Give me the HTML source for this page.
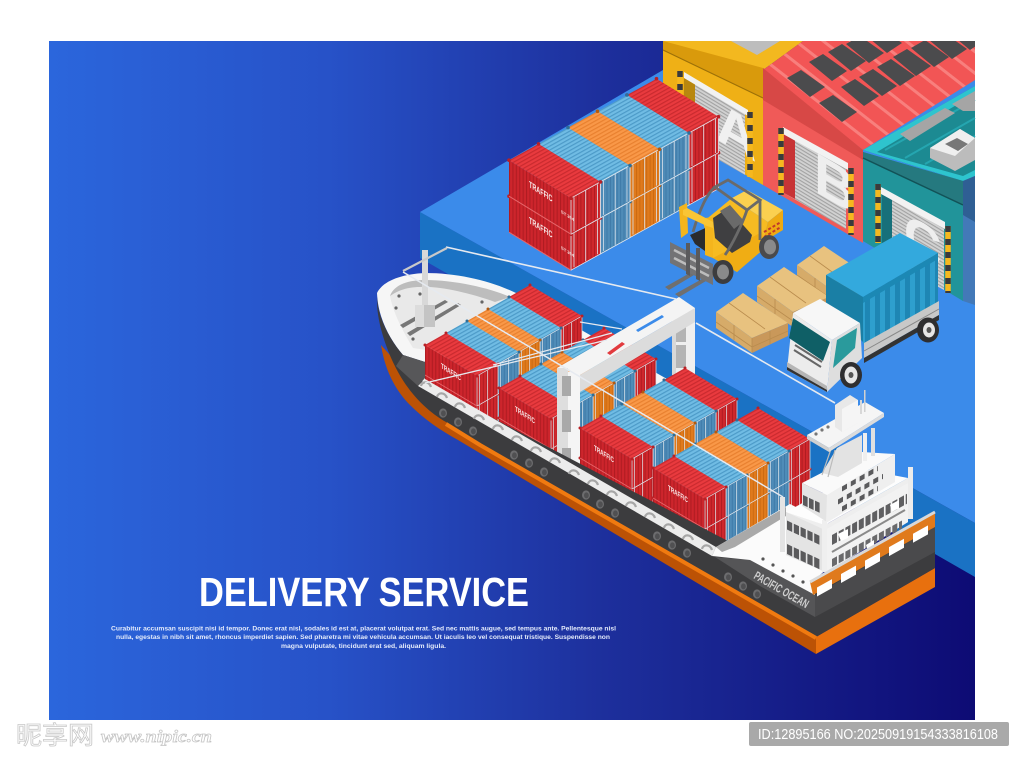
<!DOCTYPE html>
<html lang="en"><head><meta charset="utf-8"><title>Delivery Service</title>
<style>html,body{margin:0;padding:0;background:#fff}svg{display:block}text{font-family:"Liberation Sans","Noto Sans CJK SC",sans-serif}</style></head>
<body>
<svg xmlns="http://www.w3.org/2000/svg" width="1024" height="761" viewBox="0 0 1024 761">
<defs>
<linearGradient id="bg" x1="0" x2="1" y1="0" y2="0"><stop offset="0" stop-color="#2b66dc"/><stop offset=".3" stop-color="#2752c8"/><stop offset=".6" stop-color="#1d2f9c"/><stop offset="1" stop-color="#0d0b74"/></linearGradient>
<pattern id="sr" width="3.4" height="8" patternUnits="userSpaceOnUse"><rect width="3.4" height="8" fill="#cd252c"/><rect width="1.1" height="8" fill="#b01c22"/></pattern>
<pattern id="er" width="3.4" height="8" patternUnits="userSpaceOnUse"><rect width="3.4" height="8" fill="#cf272c"/><rect width="1" height="8" fill="#b01c22"/></pattern>
<pattern id="eb" width="3.4" height="8" patternUnits="userSpaceOnUse"><rect width="3.4" height="8" fill="#4f8cb8"/><rect width="1" height="8" fill="#3f7aa8"/></pattern>
<pattern id="eo" width="3.4" height="8" patternUnits="userSpaceOnUse"><rect width="3.4" height="8" fill="#e07a1c"/><rect width="1" height="8" fill="#cb6a12"/></pattern>
<pattern id="tr" width="8" height="3.4" patternUnits="userSpaceOnUse" patternTransform="rotate(-29)"><rect width="8" height="3.4" fill="#e93a3e"/><rect width="8" height="1.2" fill="#c92a2f"/></pattern>
<pattern id="tb" width="8" height="3.4" patternUnits="userSpaceOnUse" patternTransform="rotate(-29)"><rect width="8" height="3.4" fill="#70bce4"/><rect width="8" height="1.2" fill="#4c9ac8"/></pattern>
<pattern id="to" width="8" height="3.4" patternUnits="userSpaceOnUse" patternTransform="rotate(-29)"><rect width="8" height="3.4" fill="#f99848"/><rect width="8" height="1.2" fill="#e8802f"/></pattern>
<pattern id="sh" width="10" height="3" patternUnits="userSpaceOnUse" patternTransform="rotate(31)"><rect width="10" height="3" fill="#d2d2d2"/><rect width="10" height="1.1" fill="#a2a2a2"/></pattern>
<pattern id="slat" width="17" height="17" patternUnits="userSpaceOnUse" patternTransform="rotate(38)"><rect y="0" width="17" height="3" fill="#f87f7d"/></pattern>
<pattern id="tr2" width="10" height="9" patternUnits="userSpaceOnUse"><rect width="5" height="9" fill="#2e9fce"/><rect x="5" width="5" height="9" fill="#1e86b4"/></pattern>

<g id="yframe" fill="none" stroke="#dfe6ee" stroke-width=".8"><path d="M62 38L91.5 21.7V57.7L62 74Z"/><path d="M65 37V71M76.7 30V65M88.5 24V58"/></g>
<g id="yR"><path d="M0 0L62 38V74L0 36Z" fill="url(#sr)"/><path d="M0 0L29.5-16.3L91.5 21.7L62 38Z" fill="url(#tr)"/><path d="M62 38L91.5 21.7V57.7L62 74Z" fill="url(#er)"/><use href="#yframe"/><path d="M0 36L62 74" stroke="#e6656a" stroke-width="1"/><circle cx="0" cy="0" r="1.8" fill="#b92126"/><circle cx="29.5" cy="-16.3" r="1.8" fill="#b92126"/><circle cx="62" cy="38" r="1.8" fill="#b92126"/><circle cx="91.5" cy="21.7" r="1.8" fill="#b92126"/></g>
<g id="yB"><path d="M0 0L62 38V74L0 36Z" fill="#4d8ab6"/><path d="M0 0L29.5-16.3L91.5 21.7L62 38Z" fill="url(#tb)"/><path d="M62 38L91.5 21.7V57.7L62 74Z" fill="url(#eb)"/><use href="#yframe"/><circle cx="29.5" cy="-16.3" r="1.8" fill="#2d6f9a"/><circle cx="91.5" cy="21.7" r="1.8" fill="#2d6f9a"/></g>
<g id="yO"><path d="M0 0L62 38V74L0 36Z" fill="#dd7418"/><path d="M0 0L29.5-16.3L91.5 21.7L62 38Z" fill="url(#to)"/><path d="M62 38L91.5 21.7V57.7L62 74Z" fill="url(#eo)"/><use href="#yframe"/><circle cx="29.5" cy="-16.3" r="1.8" fill="#b35a10"/><circle cx="91.5" cy="21.7" r="1.8" fill="#b35a10"/></g>

<g id="sframe" fill="none" stroke="#dfe5ec" stroke-width=".7"><path d="M52 31L73 19V49L52 61Z"/><path d="M54.5 30V59M62.5 25.5V55"/></g>
<g id="sR"><path d="M0 0L52 31V61L0 30Z" fill="url(#sr)"/><path d="M0 0L21-12L73 19L52 31Z" fill="url(#tr)"/><path d="M52 31L73 19V49L52 61Z" fill="url(#er)"/><use href="#sframe"/><path d="M0 30L52 61" stroke="#e6656a" stroke-width=".9"/><circle cx="0" cy="0" r="1.5" fill="#b92126"/><circle cx="21" cy="-12" r="1.5" fill="#b92126"/><circle cx="52" cy="31" r="1.5" fill="#b92126"/><circle cx="73" cy="19" r="1.5" fill="#b92126"/></g>
<g id="sB"><path d="M0 0L52 31V61L0 30Z" fill="#4d8ab6"/><path d="M0 0L21-12L73 19L52 31Z" fill="url(#tb)"/><path d="M52 31L73 19V49L52 61Z" fill="url(#eb)"/><use href="#sframe"/><circle cx="21" cy="-12" r="1.5" fill="#2d6f9a"/><circle cx="73" cy="19" r="1.5" fill="#2d6f9a"/></g>
<g id="sO"><path d="M0 0L52 31V61L0 30Z" fill="#dd7418"/><path d="M0 0L21-12L73 19L52 31Z" fill="url(#to)"/><path d="M52 31L73 19V49L52 61Z" fill="url(#eo)"/><use href="#sframe"/><circle cx="21" cy="-12" r="1.5" fill="#b35a10"/><circle cx="73" cy="19" r="1.5" fill="#b35a10"/></g>

<g id="ship4"><use href="#sR" x="84" y="48"/><use href="#sB" x="63" y="60"/><use href="#sO" x="42" y="72"/><use href="#sB" x="21" y="84"/><use href="#sR" x="0" y="96"/></g>
<g id="stud"><ellipse cx="0" cy="0" rx="4" ry="4.6" fill="#6c6c6e"/><ellipse cx=".4" cy=".4" rx="2.4" ry="3" fill="#505052"/></g>
<path id="boll" d="M-5 2C-4-3 3-3 5 3" fill="none" stroke="#a6a6a6" stroke-width="2.2"/>
<g id="pal"><path d="M0 0L27-19L72 11L36 26Z" fill="#e8c27f"/><path d="M0 0L36 26V41L0 16Z" fill="#d6ab69"/><path d="M36 26L72 11V24L36 41Z" fill="#c9985a"/><path d="M13-9L49 17M36 26V40M18 13V28M54 19V32M0 10L36 35L72 19" stroke="#b98c4e" stroke-width=".8" fill="none"/></g>
<g id="win"><path d="M0 0L14-8L38 9L23 19Z" fill="#4b4b4d"/></g>
<clipPath id="rc"><path d="M763 70L803 41H975V80L863 150Z"/></clipPath>
</defs>

<rect width="1024" height="761" fill="#fff"/>
<rect x="49" y="41" width="926" height="679" fill="url(#bg)"/>

<!-- quay -->
<path d="M420 212L975 523V577L420 258Z" fill="#1a72c4"/>
<path d="M420 212L663 70H975V523Z" fill="#3b8bea"/>

<!-- yellow building -->
<path d="M663 41H803L763 70V80Z" fill="#f3b81f"/>
<path d="M731 41H780L757 55Z" fill="#bdbdbd"/>
<path d="M663 41L763 68V185L663 127Z" fill="#efb016"/>
<path d="M663 41L763 68V98L663 50Z" fill="#d99a0c"/>
<path d="M663 50L763 98" stroke="#9c7008" stroke-width="1.2"/>
<path d="M684 74L745 112V175L684 140Z" fill="url(#sh)"/>
<path d="M684 74L695 81V146L684 140Z" fill="#b8870f"/>
<path d="M684 72L748 110V116L684 78Z" fill="#f2f2f2"/>
<text transform="matrix(1,.58,0,1,716,139)" font-size="56" font-weight="700" fill="#f0f0f0">A</text>
<!-- red building -->
<path d="M763 70L803 41H975V80L863 150Z" fill="#f25555"/>
<g clip-path="url(#rc)">
<rect x="763" y="41" width="212" height="110" fill="url(#slat)"/>
<use href="#win" x="787" y="78"/><use href="#win" x="809" y="62"/><use href="#win" x="828" y="52"/><use href="#win" x="846" y="44"/><use href="#win" x="864" y="34"/>
<use href="#win" x="819" y="103"/><use href="#win" x="841" y="87"/><use href="#win" x="859" y="77"/><use href="#win" x="877" y="67"/><use href="#win" x="893" y="57"/><use href="#win" x="911" y="48"/><use href="#win" x="929" y="40"/><use href="#win" x="947" y="31"/>
</g>
<path d="M763 68L863 150V243L763 185Z" fill="#f05a58"/>
<path d="M763 68L863 150V160L763 100Z" fill="#d74846"/>
<path d="M784 130L846 164V229L784 193Z" fill="url(#sh)"/>
<path d="M784 130L795 136V199L784 193Z" fill="#c73436"/>
<path d="M783 127L848 163V170L783 134Z" fill="#f2f2f2"/>
<text transform="matrix(1,.58,0,1,814,191)" font-size="58" font-weight="700" fill="#eeeeee">B</text>
<!-- teal building -->
<path d="M863 150L975 86V176L963 181Z" fill="#1c8a92"/>
<path d="M863 150L975 86V94L877 152L963 176L975 170V176L963 181Z" fill="#2ec4ce"/>
<path d="M885 150L975 100M905 158L975 118M925 164L975 136" stroke="#25a6b0" stroke-width="2"/>
<path d="M900 134L945 108L955 113L910 141Z" fill="#a5a5a5"/>
<path d="M952 104L975 91V111L963 111Z" fill="#a5a5a5"/>
<path d="M930 148L960 129L975 138V160L955 171L930 158Z" fill="#bcbcbc"/>
<path d="M930 148L960 129L975 138L955 156Z" fill="#efefef"/>
<path d="M945 144L957 138L968 144L958 151Z" fill="#777"/>
<path d="M863 152L963 181V301L863 241Z" fill="#21949a"/>
<path d="M863 152L963 181V205L863 158Z" fill="#25797f"/>
<path d="M863 158L963 205" stroke="#125257" stroke-width="1.5"/>
<path d="M963 181L975 176V305L963 301Z" fill="#4379b8"/>
<path d="M963 181L975 176V222L963 215Z" fill="#2f5f94"/>
<path d="M882 190L944 225V290L882 256Z" fill="url(#sh)"/>
<path d="M882 190L892 196V262L882 256Z" fill="#17707a"/>
<path d="M881 187L945 222V229L881 194Z" fill="#f2f2f2"/>
<text transform="matrix(1,.58,0,1,904,248)" font-size="52" font-weight="700" fill="#eeeeee">C</text>
<!-- hazard posts -->
<g stroke-width="5.5" fill="none">
<path d="M680 71V95M750 112V177M781 128V195M851 168V235M878 184V243M948 226V293" stroke="#f5b81f"/>
<path d="M680 71V95M750 112V177M781 128V195M851 168V235M878 184V243M948 226V293" stroke="#3a3a3c" stroke-dasharray="6 7"/>
</g>

<!-- yard containers -->
<g>
<use href="#yR" x="627" y="131"/><use href="#yB" x="597.5" y="147.3"/><use href="#yO" x="568" y="163.6"/><use href="#yB" x="538.5" y="179.9"/><use href="#yR" x="509" y="196.2"/>
<use href="#yR" x="627" y="95"/><use href="#yB" x="597.5" y="111.3"/><use href="#yO" x="568" y="127.6"/><use href="#yB" x="538.5" y="143.9"/><use href="#yR" x="509" y="160.2"/>
<text transform="matrix(.9,.58,0,1,529,187)" font-size="9" font-weight="700" fill="#f8e6e6" textLength="26" lengthAdjust="spacingAndGlyphs">TRAFFIC</text>
<text transform="matrix(.9,.58,0,1,529,223)" font-size="9" font-weight="700" fill="#f8e6e6" textLength="26" lengthAdjust="spacingAndGlyphs">TRAFFIC</text>
<text transform="matrix(.9,.58,0,1,561,213)" font-size="4.5" font-weight="700" fill="#f4dede">ST 394</text>
<text transform="matrix(.9,.58,0,1,561,249)" font-size="4.5" font-weight="700" fill="#f4dede">ST 394</text>
</g>

<!-- forklift -->
<g>
<path d="M665 287L690 273L694 275L669 290ZM675 294L702 279L706 281L679 297Z" fill="#6f6f6f"/>
<path d="M703 222L732 198L768 222L762 247L737 272L713 258Z" fill="#f6bb22"/>
<path d="M732 198L747 190L783 210L768 222Z" fill="#fbd050"/>
<path d="M768 222L783 210V230L763 242Z" fill="#eeaa12"/>
<path d="M764 232L781 222M764 237L781 227" stroke="#c0392b" stroke-width="2" stroke-dasharray="3 2"/>
<path d="M713 258L762 232L765 248L737 272Z" fill="#f0ad14"/>
<path d="M690 235L712 225L712 256L695 244Z" fill="#2b2b2d"/>
<path d="M713 218L728 208L752 235L750 242L732 253L715 238Z" fill="#3f3f41"/>
<path d="M720 211L730 205L744 221L734 229Z" fill="#6a6a6a"/>
<g fill="none" stroke="#6a6a6a" stroke-width="2.8">
<path d="M715 187L728 180L760 200L747 210Z"/>
<path d="M715 187C705 195 698 215 693 232"/>
<path d="M747 210C742 225 732 245 725 255"/>
<path d="M760 200V240"/>
</g>
<path d="M679 207L687 203L688 233L681 238Z" fill="#f4b51d"/>
<path d="M705 218L713 217V258L705 255Z" fill="#f4b51d"/>
<path d="M683 210L687 208L713 222V228L707 226L683 215Z" fill="#f9c535"/>
<path d="M670 242L713 264V285L670 263Z" fill="#737375"/>
<path d="M674 250L709 268M674 258L709 276" stroke="#bdbdbd" stroke-width="2.4"/>
<path d="M686 243L690 243V276L686 274ZM696 248L700 248V281L696 279Z" fill="#5a5a5c"/>
<ellipse cx="723" cy="272" rx="10.5" ry="12" fill="#3c3c3e"/><ellipse cx="723" cy="272" rx="6" ry="7.5" fill="#8a8a8a"/>
<ellipse cx="769" cy="247" rx="10" ry="12" fill="#4a4a4c"/><ellipse cx="770" cy="247" rx="6" ry="7.5" fill="#8a8a8a"/>
</g>

<!-- pallets -->
<use href="#pal" x="797" y="265"/><use href="#pal" x="757" y="286"/><use href="#pal" x="716" y="312"/>

<!-- truck -->
<g>
<path d="M826 275L900 233L938 253L863 297Z" fill="#33a9dd"/>
<path d="M826 275L863 297V302L826 282Z" fill="#2698c8"/>
<path d="M826 275L863 297V342L826 305Z" fill="#1a7fa5"/>
<path d="M863 297L938 253V302L863 344Z" fill="url(#tr2)"/>
<path d="M863 297L938 253V259L863 303Z" fill="#1c88b4"/>
<path d="M864 343L939 301V315L864 358Z" fill="#c8c8c8"/>
<path d="M864 351L939 309" stroke="#888" stroke-width="1"/>
<path d="M864 358L939 315V320L864 363Z" fill="#333"/>
<ellipse cx="928" cy="330" rx="11" ry="12.5" fill="#2e2e30"/><ellipse cx="929" cy="330" rx="6" ry="7.5" fill="#e6e6e6"/><ellipse cx="929" cy="330" rx="2.5" ry="3" fill="#555"/>
<path d="M793 313L820 299L860 323L832 340Z" fill="#f7f7f7"/>
<path d="M793 313L832 340L827 392L787 370Z" fill="#ececec"/>
<path d="M793 318L830 342L823 361L789 338Z" fill="#0f5f66"/>
<path d="M795 345L822 362M794 350L821 367" stroke="#666" stroke-width="2"/>
<path d="M787 362L827 386V392L787 370Z" fill="#b5b5b5"/>
<path d="M787 367L827 390V392L787 370Z" fill="#333"/>
<path d="M832 340L860 323L862 358L827 392Z" fill="#dedede"/>
<path d="M837 340L857 328L855 348L833 368Z" fill="#2a9a9c"/>
<ellipse cx="851" cy="375" rx="11" ry="13" fill="#2e2e30"/><ellipse cx="851" cy="375" rx="6.5" ry="8.5" fill="#e6e6e6"/><ellipse cx="851" cy="375" rx="2.5" ry="3" fill="#555"/>
</g>

<!-- ship deck (behind containers) -->
<path d="M377 293C382 282 400 274 425 273C460 273 495 282 520 295L800 455L815 595L420 380L425 362L403 355C390 340 378 318 377 293Z" fill="#f6f6f6"/>
<path d="M390 296C396 287 405 283 425 283C455 283 490 290 508 298L440 352L413 348C402 330 393 312 390 296Z" fill="#e9e9e9"/>
<path d="M390 296C394 284 410 280 425 280C455 280 490 288 510 297L495 302C470 293 440 286 420 287C405 287 396 292 390 296Z" fill="#bdbdbd"/>
<path d="M400 325L445 300L448 302L403 328ZM407 333L458 303L461 305L410 336Z" fill="#777"/>
<rect x="415" y="305" width="20" height="22" fill="#c4c4c4"/><rect x="415" y="305" width="9" height="22" fill="#dcdcdc"/>
<rect x="422" y="250" width="6" height="55" fill="#d8d8d8"/>
<g fill="#666"><circle cx="399" cy="296" r="1.6"/><circle cx="396" cy="308" r="1.6"/><circle cx="413" cy="339" r="1.6"/><circle cx="482" cy="302" r="1.6"/><circle cx="420" cy="294" r="1.6"/></g>

<!-- stacks G1 -->
<g transform="translate(425,279)"><use href="#ship4"/></g>
<g transform="translate(425,249)"><use href="#ship4"/></g>
<text transform="matrix(.9,.58,0,1,441,368)" font-size="7.5" font-weight="700" fill="#f8e6e6" textLength="22" lengthAdjust="spacingAndGlyphs">TRAFFIC</text>

<!-- stacks G2 -->
<g transform="translate(499,322)"><use href="#ship4"/></g>
<g transform="translate(499,292)"><use href="#ship4"/></g>
<text transform="matrix(.9,.58,0,1,515,411)" font-size="7.5" font-weight="700" fill="#f8e6e6" textLength="22" lengthAdjust="spacingAndGlyphs">TRAFFIC</text>

<!-- gantry -->
<g>
<path d="M672 308H695V375H672Z" fill="#efefef"/><rect x="672" y="308" width="4" height="67" fill="#d8d8d8"/>
<rect x="676" y="320" width="10" height="22" fill="#b4b4b4"/><rect x="676" y="345" width="10" height="23" fill="#b4b4b4"/>
<path d="M557 368L679 297L695 308L580 375Z" fill="#f4f4f4"/>
<path d="M580 375L695 308V322L580 392Z" fill="#dcdcdc"/>
<path d="M636 330L662 315L664 317L638 332Z" fill="#3b8bea"/>
<path d="M607 353L622 342L625 344L610 355Z" fill="#e23a3e"/>
<rect x="557" y="368" width="11" height="99" fill="#dedede"/><rect x="568" y="372" width="12" height="95" fill="#f5f5f5"/>
<rect x="562" y="376" width="9" height="20" fill="#a9a9a9"/><rect x="562" y="410" width="9" height="22" fill="#a9a9a9"/><rect x="562" y="448" width="9" height="15" fill="#a9a9a9"/>
</g>

<!-- stacks G3 -->
<g transform="translate(580,362)"><use href="#ship4"/></g>
<g transform="translate(580,332)"><use href="#ship4"/></g>
<text transform="matrix(.9,.58,0,1,594,450)" font-size="7.5" font-weight="700" fill="#f8e6e6" textLength="22" lengthAdjust="spacingAndGlyphs">TRAFFIC</text>
<text transform="matrix(.9,.58,0,1,594,481)" font-size="7.5" font-weight="700" fill="#f8e6e6" textLength="22" lengthAdjust="spacingAndGlyphs">TRAFFIC</text>

<!-- stacks G4 -->
<g transform="translate(653,402)"><use href="#ship4"/></g>
<g transform="translate(653,372)"><use href="#ship4"/></g>
<text transform="matrix(.9,.58,0,1,668,490)" font-size="7.5" font-weight="700" fill="#f8e6e6" textLength="22" lengthAdjust="spacingAndGlyphs">TRAFFIC</text>
<text transform="matrix(.9,.58,0,1,668,521)" font-size="7.5" font-weight="700" fill="#f8e6e6" textLength="22" lengthAdjust="spacingAndGlyphs">TRAFFIC</text>

<!-- hull -->
<path d="M381 345C385 370 395 390 410 405C425 420 440 430 458 440L816 654V620L430 400Z" fill="#bc5205"/>
<path d="M816 637L935 568V587L816 654Z" fill="#e8700e"/>
<path d="M377 297C376 320 386 350 398 372C410 394 428 412 446 422L480 444L816 637L935 568V515L812 585L420 380L425 378V362L403 355C390 340 378 318 377 297Z" fill="#3c3c3e"/>
<path d="M403 355L425 362V378L418 386L396 366Z" fill="#575759"/>
<path d="M715 557L750 560L815 595V617L760 586Z" fill="#555557"/>
<path d="M815 595L935 527V552L815 617Z" fill="#4a4a4c"/>
<path d="M446 424L480 445L816 638" fill="none" stroke="#f07a10" stroke-width="4"/>
<path d="M418 386L425 379L716 547L712 556Z" fill="#ececec"/>
<g>
<use href="#boll" x="426" y="384"/><use href="#boll" x="442" y="395"/><use href="#boll" x="460" y="405"/><use href="#boll" x="479" y="417"/><use href="#boll" x="498" y="427"/><use href="#boll" x="517" y="438"/><use href="#boll" x="536" y="449"/><use href="#boll" x="555" y="460"/><use href="#boll" x="574" y="472"/><use href="#boll" x="593" y="482"/><use href="#boll" x="612" y="493"/><use href="#boll" x="631" y="504"/><use href="#boll" x="650" y="515"/><use href="#boll" x="669" y="526"/><use href="#boll" x="688" y="537"/><use href="#boll" x="707" y="547"/>
</g>
<g>
<use href="#stud" x="443" y="413"/><use href="#stud" x="458" y="422"/><use href="#stud" x="473" y="431"/>
<use href="#stud" x="514" y="455"/><use href="#stud" x="529" y="463"/><use href="#stud" x="544" y="472"/>
<use href="#stud" x="586" y="495"/><use href="#stud" x="600" y="504"/><use href="#stud" x="615" y="513"/>
<use href="#stud" x="657" y="536"/><use href="#stud" x="672" y="545"/><use href="#stud" x="687" y="553"/>
<use href="#stud" x="728" y="577"/><use href="#stud" x="743" y="586"/><use href="#stud" x="757" y="594"/>
</g>
<!-- stern deck -->
<path d="M712 556L716 547L790 504L860 540L812 582L815 595L750 560Z" fill="#fbfbfb"/>
<path d="M716 547L786 507V516L735 547L722 552Z" fill="#a9a9a9"/>
<g fill="#555"><circle cx="763" cy="559" r="1.6"/><circle cx="773" cy="565" r="1.6"/><circle cx="783" cy="571" r="1.6"/><circle cx="793" cy="576" r="1.6"/><circle cx="803" cy="582" r="1.6"/></g>
<text transform="translate(753,578) rotate(30)" font-size="12" font-weight="700" fill="#cfcfcf" textLength="61" lengthAdjust="spacingAndGlyphs">PACIFIC OCEAN</text>

<!-- bridge -->
<g>
<path d="M786 512L825 525L908 478V522L827 572L786 555Z" fill="#eee"/>
<path d="M786 512L866 470L908 478L825 525Z" fill="#fdfdfd"/>
<path d="M786 512L825 530V572L786 555Z" fill="#e4e4e4"/>
<path d="M825 530L908 483V522L827 572Z" fill="#f2f2f2"/>
<g transform="matrix(1,.47,0,1,787,525)"><path d="M0 0H33" stroke="#5a5a5c" stroke-width="9" stroke-dasharray="5.2 1.6"/></g>
<g transform="matrix(1,.47,0,1,787,549)"><path d="M0 0H33" stroke="#5a5a5c" stroke-width="10" stroke-dasharray="5.2 1.6"/></g>
<g transform="matrix(1,-.55,0,1,832,540)"><path d="M0 0H75" stroke="#5f5f61" stroke-width="10" stroke-dasharray="5 1.7"/></g>
<g transform="matrix(1,-.55,0,1,832,563)"><path d="M0 0H70" stroke="#6a6a6c" stroke-width="8" stroke-dasharray="5 1.7"/></g>
<path d="M832 552L905 510" stroke="#8a8a8a" stroke-width="2"/>
<path d="M838 534L848 529V538L841 541ZM890 505L899 500V508L892 512ZM866 545L874 540V548L868 551Z" fill="#fff"/>
<rect x="780" y="497" width="5" height="55" fill="#e4e4e4"/>
<rect x="908" y="467" width="5" height="52" fill="#ececec"/>
<rect x="822" y="520" width="5" height="52" fill="#efefef"/>

<path d="M802 483L862 452L895 454L827 495Z" fill="#fafafa"/>
<path d="M802 483L827 495V522L802 506Z" fill="#e4e4e4"/>
<path d="M827 495L895 454V482L826 523Z" fill="#efefef"/>
<g transform="matrix(1,.47,0,1,803,500)"><path d="M0 0H17" stroke="#5a5a5c" stroke-width="10" stroke-dasharray="4.6 1.4"/></g>
<g transform="matrix(1,-.57,0,1,842,489)"><path d="M0 0H36" stroke="#5a5a5c" stroke-width="5" stroke-dasharray="5 3.8"/></g>
<g transform="matrix(1,-.57,0,1,838,502)"><path d="M0 0H45" stroke="#5a5a5c" stroke-width="5" stroke-dasharray="5 3.8"/></g>
<g transform="matrix(1,-.57,0,1,842,509)"><path d="M0 0H36" stroke="#5a5a5c" stroke-width="5" stroke-dasharray="5 3.8"/></g>

<path d="M822 473L837 448L862 435V463L838 477Z" fill="#e3e3e3"/>
<path d="M822 475L831 449M828 477L835 450" stroke="#bbb" stroke-width="1.2"/>
<rect x="863" y="433" width="4" height="28" fill="#efefef"/><rect x="871" y="428" width="4" height="28" fill="#e0e0e0"/>
<path d="M807 435L865 402L884 413L829 448Z" fill="#f5f5f5"/>
<path d="M807 435L829 448V452L807 439Z" fill="#d0d0d0"/><path d="M829 448L884 413V417L829 452Z" fill="#dcdcdc"/>
<g fill="#777"><circle cx="816" cy="434" r="1.6"/><circle cx="822" cy="430" r="1.6"/><circle cx="828" cy="427" r="1.6"/></g>
<path d="M835 405L850 395L858 400V423L842 432L835 427Z" fill="#e8e8e8"/><path d="M842 409L858 400V423L842 432Z" fill="#f5f5f5"/>
<rect x="864" y="390" width="1.5" height="22" fill="#d0d0d0"/><rect x="860" y="400" width="2" height="14" fill="#d8d8d8"/>
</g>
<!-- stern rail -->
<path d="M810 582L935 512V527L813 595Z" fill="#e07a1c"/>
<g transform="matrix(1,-.56,0,1,817,592)"><path d="M0 0H118" stroke="#fff" stroke-width="9" stroke-dasharray="15 9"/></g>
<path d="M810 582L935 512" stroke="#d8d8d8" stroke-width="3"/>

<!-- ropes -->
<g stroke="#e6eaf0" fill="none">
<path d="M446 247L676 299" stroke-width="1.6"/>
<path d="M696 323L835 403" stroke-width="1.6"/>
<path d="M403 272L783 497" stroke-width="1.5"/>
<path d="M425 383L607 340" stroke-width="1.3"/>
<path d="M580 322L622 329" stroke-width="1.2"/>
<path d="M493 365L612 333" stroke-width="1.2"/>
<path d="M403 271L447 248" stroke="#c9c9c9" stroke-width="2.2"/>
</g>

<!-- text -->
<text x="199" y="606" font-size="41" font-weight="700" fill="#fff" textLength="330" lengthAdjust="spacingAndGlyphs">DELIVERY SERVICE</text>
<g font-size="6.6" font-weight="700" fill="#e4ebfb">
<text x="111" y="630.5" textLength="505" lengthAdjust="spacingAndGlyphs">Curabitur accumsan suscipit nisi id tempor. Donec erat nisl, sodales id est at, placerat volutpat erat. Sed nec mattis augue, sed tempus ante. Pellentesque nisl</text>
<text x="116" y="639" textLength="494" lengthAdjust="spacingAndGlyphs">nulla, egestas in nibh sit amet, rhoncus imperdiet sapien. Sed pharetra mi vitae vehicula accumsan. Ut iaculis leo vel consequat tristique. Suspendisse non</text>
<text x="281" y="648" textLength="165" lengthAdjust="spacingAndGlyphs">magna vulputate, tincidunt erat sed, aliquam ligula.</text>
</g>

<!-- watermark -->
<text x="16" y="744" font-size="25" fill="#fff" stroke="#c8c8c8" stroke-width=".8" textLength="78" lengthAdjust="spacingAndGlyphs">昵享网</text>
<text x="101" y="742" font-size="17" font-style="italic" font-weight="700" fill="#fff" stroke="#c4c4c4" stroke-width=".7" textLength="111" lengthAdjust="spacingAndGlyphs" style="font-family:'Liberation Serif',serif">www.nipic.cn</text>
<rect x="749" y="722" width="260" height="24" rx="2" fill="#a9a9a9"/>
<text x="758" y="739" font-size="14.5" fill="#fff" textLength="240" lengthAdjust="spacingAndGlyphs">ID:12895166 NO:20250919154333816108</text>
</svg>
</body></html>
